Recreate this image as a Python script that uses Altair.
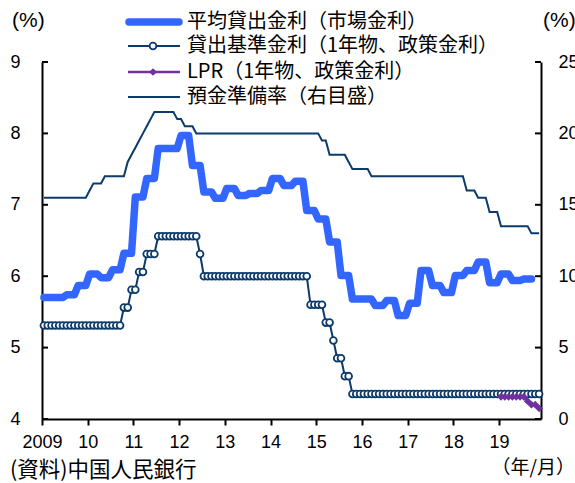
import json
import altair as alt
import numpy as np
import pandas as pd

# ---------------- data ----------------
year_labels = ["2009", "10", "11", "12", "13", "14", "15", "16", "17", "18", "19"]
first_year = 2009
last_month = "2019-11"

# weighted average lending rate, quarterly 2009Q1 .. 2019Q3 (%)
avg_lending_quarterly = [
    5.70, 5.70, 5.74, 5.87,
    6.03, 5.98, 6.09, 6.32,
    7.11, 7.37, 7.79, 7.79,
    7.97, 7.55, 7.18, 7.09,
    7.23, 7.13, 7.16, 7.20,
    7.37, 7.27, 7.33, 6.92,
    6.80, 6.48, 6.01, 5.68,
    5.68, 5.59, 5.66, 5.45,
    5.62, 6.08, 5.87, 5.77,
    6.01, 6.08, 6.20, 5.91,
    6.03, 5.94, 5.96,
]

# 1-year benchmark lending rate (month-end level from the month of change)
benchmark_change_months = ["2009-01", "2010-10", "2010-12", "2011-02", "2011-04", "2011-07",
                           "2012-06", "2012-07", "2014-11", "2015-03", "2015-05", "2015-06",
                           "2015-08", "2015-10"]
benchmark_change_values = [5.31, 5.56, 5.81, 6.06, 6.31, 6.56,
                           6.31, 6.00, 5.60, 5.35, 5.10, 4.85,
                           4.60, 4.35]

# LPR (1-year)
lpr_months = ["2019-01", "2019-02", "2019-03", "2019-04", "2019-05", "2019-06",
              "2019-07", "2019-08", "2019-09", "2019-10", "2019-11"]
lpr_values = [4.31, 4.31, 4.31, 4.31, 4.31, 4.31, 4.31, 4.25, 4.20, 4.20, 4.15]

# reserve requirement ratio (right axis)
rrr_change_months = ["2009-01", "2010-01", "2010-02", "2010-05", "2010-11", "2010-12",
                     "2011-01", "2011-02", "2011-03", "2011-04", "2011-05", "2011-06",
                     "2011-12", "2012-02", "2012-05", "2015-02", "2015-04", "2015-09",
                     "2015-10", "2016-03", "2018-04", "2018-07", "2018-10", "2019-01",
                     "2019-09"]
rrr_change_values = [15.5, 16.0, 16.5, 17.0, 18.0, 18.5,
                     19.0, 19.5, 20.0, 20.5, 21.0, 21.5,
                     21.0, 20.5, 20.0, 19.5, 18.5, 18.0,
                     17.5, 17.0, 16.0, 15.5, 14.5, 13.5,
                     13.0]

series_names = ["平均貸出金利（市場金利）", "貸出基準金利（1年物、政策金利）",
                "LPR（1年物、政策金利）", "預金準備率（右目盛）"]
left_ticks = [4, 5, 6, 7, 8, 9]
right_ticks = [0, 5, 10, 15, 20, 25]
left_unit = "(%)"
right_unit = "(%)"
source_note = "(資料)中国人民銀行"
x_unit = "（年/月）"


def midx(s):
    y, m = map(int, s.split("-"))
    return (y - first_year) * 12 + (m - 1)


N = midx(last_month) + 1


def step_series(months, values):
    idx = [midx(s) for s in months]
    vals = []
    for i in range(N):
        j = max(k for k, start in enumerate(idx) if start <= i)
        vals.append(values[j])
    return pd.DataFrame({"m": list(range(N)), "v": vals})


df_avg = pd.DataFrame({"m": list(range(len(avg_lending_quarterly) * 3)),
                       "v": np.repeat(avg_lending_quarterly, 3)})
df_bench = step_series(benchmark_change_months, benchmark_change_values)
df_rrr = step_series(rrr_change_months, rrr_change_values)
df_lpr = pd.DataFrame({"m": [midx(s) for s in lpr_months], "v": lpr_values})

# ---------------- style / layout ----------------
W, H = 499, 357
BLUE = "#3366FF"
NAVY = "#0B3A6B"
PURPLE = "#7030A0"
NUM_FONT = "Liberation Sans"
JP_FONT = "Noto Sans CJK JP"
CIRCLE_SIZE = 46
DIAMOND_SIZE = 60

label_expr = json.dumps(year_labels) + "[round((datum.value + 0.5) / 12)]"

x_axis = alt.Axis(values=[12 * k - 0.5 for k in range(len(year_labels))], labelExpr=label_expr,
                  title=None, grid=False, domainColor="black", domainWidth=2,
                  tickColor="black", tickWidth=2, tickSize=6, labelPadding=8,
                  labelFont=NUM_FONT, labelFontSize=18, labelColor="black",
                  labelFlush=False, labelOverlap=False)
X = alt.X("m:Q", scale=alt.Scale(domain=[-0.5, N - 0.5], nice=False, zero=False), axis=x_axis)

left_axis = alt.Axis(orient="left", values=left_ticks, title=None, grid=False,
                     domainColor="black", domainWidth=2, tickSize=0, labelPadding=22,
                     labelFont=NUM_FONT, labelFontSize=18, labelColor="black", labelFlush=False)
right_axis = alt.Axis(orient="right", values=right_ticks, title=None, grid=False,
                      domainColor="black", domainWidth=2, tickSize=0, labelPadding=17,
                      labelFont=NUM_FONT, labelFontSize=18, labelColor="black", labelFlush=False)
left_scale = alt.Scale(domain=[4, 9], nice=False, zero=False)
right_scale = alt.Scale(domain=[0, 25], nice=False, zero=False)


def YL(field):
    return alt.Y(field, scale=left_scale, axis=left_axis)


def YR(field):
    return alt.Y(field, scale=right_scale, axis=right_axis)


bench_line = alt.Chart(df_bench).mark_line(color=NAVY, strokeWidth=2).encode(x=X, y=YL("v:Q"))
bench_pts = alt.Chart(df_bench).mark_point(shape="circle", filled=True, fill="white", stroke=NAVY,
                                           strokeWidth=1.8, size=CIRCLE_SIZE, opacity=1).encode(
    x=X, y=YL("v:Q"))
lpr_line = alt.Chart(df_lpr).mark_line(color=PURPLE, strokeWidth=3).encode(x=X, y=YL("v:Q"))
lpr_pts = alt.Chart(df_lpr).mark_point(shape="diamond", filled=True, color=PURPLE, size=DIAMOND_SIZE,
                                       opacity=1).encode(x=X, y=YL("v:Q"))
avg_line = alt.Chart(df_avg).mark_line(color=BLUE, strokeWidth=7.5, strokeCap="round",
                                       strokeJoin="round").encode(x=X, y=YL("v:Q"))
left_tick_marks = alt.Chart(pd.DataFrame({"t": left_ticks})).mark_rule(
    color="black", strokeWidth=2).encode(x=alt.value(0), x2=alt.value(6), y=YL("t:Q"))

rrr_line = alt.Chart(df_rrr).mark_line(color=NAVY, strokeWidth=2).encode(x=X, y=YR("v:Q"))
right_tick_marks = alt.Chart(pd.DataFrame({"t": right_ticks})).mark_rule(
    color="black", strokeWidth=2).encode(x=alt.value(W - 6), x2=alt.value(W), y=YR("t:Q"))

left_group = alt.layer(bench_line, bench_pts, lpr_line, lpr_pts, avg_line, left_tick_marks)
right_group = alt.layer(rrr_line, right_tick_marks)


def one(label):
    return pd.DataFrame({"label": [label]})


def text_at(label, x, y, font, size, align="left"):
    return alt.Chart(one(label)).mark_text(font=font, fontSize=size, align=align, baseline="middle",
                                           color="black").encode(
        x=alt.value(x), y=alt.value(y), text="label:N")


def rule_at(x1, x2, y, color, width, cap="butt"):
    return alt.Chart(one("")).mark_rule(color=color, strokeWidth=width, strokeCap=cap).encode(
        x=alt.value(x1), x2=alt.value(x2), y=alt.value(y))


leg_rows = [-40, -16, 10, 35]
leg_x1, leg_x2, leg_mid, leg_tx = 86, 138, 111, 145
legend = [
    rule_at(leg_x1 + 1, leg_x2 - 1, leg_rows[0], BLUE, 7.5, "round"),
    rule_at(leg_x1, leg_x2, leg_rows[1], NAVY, 2),
    alt.Chart(one("")).mark_point(shape="circle", filled=True, fill="white", stroke=NAVY,
                                  strokeWidth=1.8, size=CIRCLE_SIZE, opacity=1).encode(
        x=alt.value(leg_mid), y=alt.value(leg_rows[1])),
    rule_at(leg_x1, leg_x2, leg_rows[2], PURPLE, 2.5),
    alt.Chart(one("")).mark_point(shape="diamond", filled=True, color=PURPLE, size=DIAMOND_SIZE,
                                  opacity=1).encode(x=alt.value(leg_mid), y=alt.value(leg_rows[2])),
    rule_at(leg_x1, leg_x2, leg_rows[3], NAVY, 2),
]
for name, yy in zip(series_names, leg_rows):
    legend.append(text_at(name, leg_tx, yy, JP_FONT, 20))

notes = [
    text_at(left_unit, -30, -41, NUM_FONT, 21),
    text_at(right_unit, 501, -41, NUM_FONT, 21),
    text_at(source_note, -32, 409, JP_FONT, 21.5),
    text_at(x_unit, 533, 406, JP_FONT, 19, align="right"),
]

chart = alt.layer(right_group, left_group, *legend, *notes).resolve_scale(
    y="independent"
).properties(
    width=W, height=H,
    padding={"left": 42, "top": 62, "right": 34, "bottom": 64},
    autosize=alt.AutoSizeParams(type="none"),
    background="white",
).configure_view(stroke=None)

chart.save("out.html", embed_options={"renderer": "svg", "actions": False})
